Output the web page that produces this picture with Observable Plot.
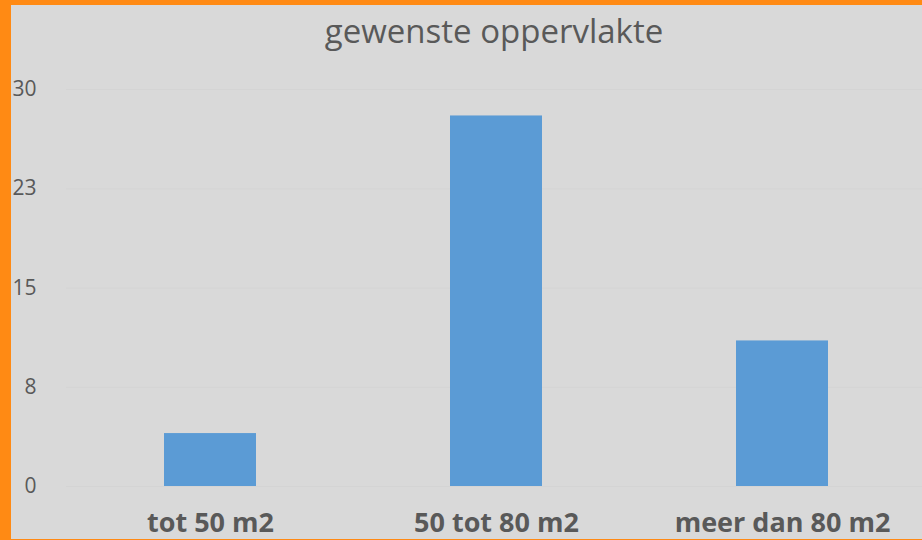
<!DOCTYPE html>
<html><head><meta charset="utf-8">
<script src="https://cdn.jsdelivr.net/npm/d3@7"></script>
<script src="https://cdn.jsdelivr.net/npm/@observablehq/plot@0.6"></script>
<style>
html,body{margin:0;padding:0;background:#d9d9d9;}
#wrap{position:absolute;left:0;top:0;width:911px;height:534px;border-left:11px solid #ff8a14;border-top:5px solid #ff8a14;border-bottom:1px solid #ff8a14;background:#d9d9d9;font-family:"Open Sans",sans-serif;overflow:hidden}
#title{height:55px;box-sizing:border-box;padding-top:3px;padding-left:55px;text-align:center;font-size:33px;color:#595959;white-space:nowrap}
svg{display:block}
</style>
</head><body>
<div id="wrap"><div id="title">gewenste oppervlakte</div><div id="chart"></div></div>
<script>
const categories = ["tot 50 m2", "50 tot 80 m2", "meer dan 80 m2"];
const values = [4, 28, 11];
const yTickValues = [0, 7.5, 15, 22.5, 30];
const yTickLabels = ["0", "8", "15", "23", "30"];

const data = categories.map((c, i) => ({category: c, value: values[i]}));

const chart = Plot.plot({
  width: 911,
  height: 479,
  marginLeft: 55,
  marginRight: 0,
  marginTop: 29,
  marginBottom: 53,
  style: {background: "transparent", fontFamily: "'Open Sans', sans-serif", color: "#595959"},
  x: {domain: categories, range: [55, 915], padding: 0, label: null},
  y: {domain: [0, 30], label: null},
  marks: [
    Plot.ruleY(yTickValues, {stroke: "#d4d4d4", strokeWidth: 1}),
    Plot.barY(data, {x: "category", y: "value", fill: "#5b9bd5", insetLeft: 97, insetRight: 97}),
    Plot.axisY({ticks: yTickValues, tickFormat: (d) => yTickLabels[yTickValues.indexOf(d)], tickSize: 0, tickPadding: 30, fontSize: 21, fill: "#595959", label: null}),
    Plot.axisX({tickSize: 0, tickPadding: 26, fontSize: 27, fontWeight: "bold", fill: "#595959", label: null})
  ]
});
document.getElementById("chart").appendChild(chart);
</script>
</body></html>
